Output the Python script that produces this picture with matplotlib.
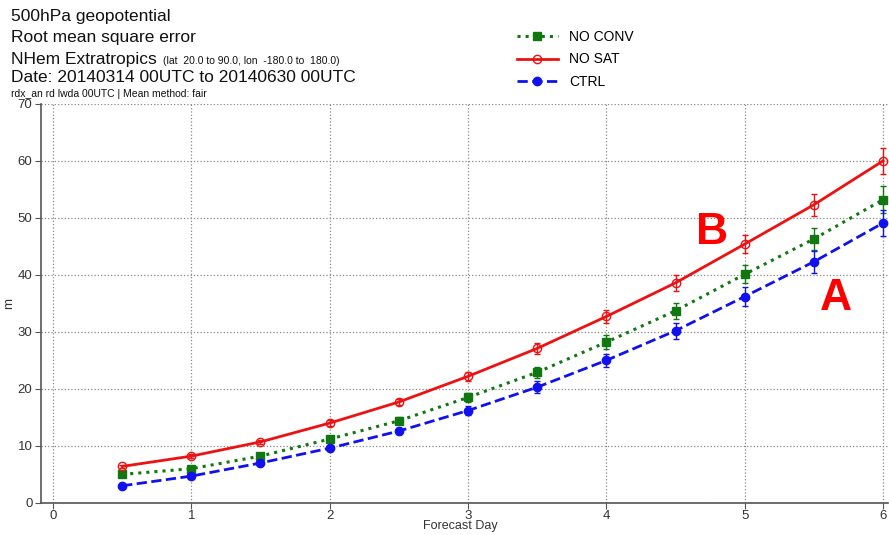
import matplotlib
matplotlib.use('Agg')
import matplotlib.pyplot as plt
from matplotlib.lines import Line2D

plt.rcParams['font.family'] = ['Liberation Sans', 'DejaVu Sans']

days = [0.5, 1, 1.5, 2, 2.5, 3, 3.5, 4, 4.5, 5, 5.5, 6]
no_sat = [6.4, 8.2, 10.7, 14.0, 17.7, 22.2, 27.1, 32.7, 38.6, 45.4, 52.3, 60.0]
no_conv = [5.0, 6.0, 8.2, 11.2, 14.4, 18.5, 22.9, 28.2, 33.7, 40.1, 46.3, 53.2]
ctrl = [3.0, 4.7, 7.0, 9.6, 12.6, 16.2, 20.3, 25.0, 30.2, 36.2, 42.3, 49.1]
err = [0.3, 0.3, 0.4, 0.5, 0.6, 0.8, 1.0, 1.2, 1.4, 1.6, 1.9, 2.3]

fig = plt.figure(figsize=(8.89, 5.35), dpi=100)
ax = fig.add_axes([0.046, 0.060, 0.953, 0.746])

styles = [
    ('NO CONV', no_conv, dict(color='#117711', ls=':', lw=2.2, marker='s', ms=6)),
    ('NO SAT', no_sat, dict(color='#ee1111', ls='-', lw=2, marker='o', ms=6,
                            mfc='none', mew=1)),
    ('CTRL', ctrl, dict(color='#1111ee', ls='--', lw=2, marker='o', ms=6)),
]
handles = []
for name, vals, st in styles:
    ax.errorbar(days, vals, yerr=err, capsize=2.5, elinewidth=1, **st)
    handles.append(Line2D([], [], label=name, **st))

ax.set_xlim(-0.087, 6.036)
ax.set_ylim(0, 70)
ax.set_xticks(range(0, 7))
ax.set_yticks(range(0, 71, 10))
ax.grid(True, ls=':', color='#888888', lw=0.9)
for s in ['top', 'right']:
    ax.spines[s].set_visible(False)
for s in ['left', 'bottom']:
    ax.spines[s].set_color('#555555')
    ax.spines[s].set_linewidth(1.2)
ax.tick_params(colors='#555555', labelcolor='#333333', labelsize=9.5, length=4, pad=2)
ax.tick_params(axis='x', pad=1)

ax.set_xlabel('Forecast Day', fontsize=9, color='#333333')
ax.xaxis.set_label_coords(0.495, -0.0435)
ax.set_ylabel('m', fontsize=9.5, color='#333333')
ax.yaxis.set_label_coords(-0.030, 0.5)

ax.text(4.765, 47.4, 'B', color='red', fontsize=32, fontweight='bold', ha='center', va='center')
ax.text(5.66, 35.8, 'A', color='red', fontsize=32, fontweight='bold', ha='center', va='center')

fig.text(0.012, 0.970, '500hPa geopotential', fontsize=12.5, va='center', color='#111111')
fig.text(0.012, 0.929, 'Root mean square error', fontsize=12.5, va='center', color='#111111')
fig.text(0.012, 0.888, 'NHem Extratropics', fontsize=12.5, va='center', color='#111111')
fig.text(0.183, 0.886, '(lat  20.0 to 90.0, lon  -180.0 to  180.0)', fontsize=7.5,
         va='center', color='#111111')
fig.text(0.012, 0.856, 'Date: 20140314 00UTC to 20140630 00UTC', fontsize=12.5,
         va='center', color='#111111')
fig.text(0.012, 0.825, 'rdx_an rd lwda 00UTC | Mean method: fair', fontsize=7.5,
         va='center', color='#111111')

fig.legend(handles=handles, loc='upper left', bbox_to_anchor=(0.567, 0.967),
           frameon=False, fontsize=10, handlelength=3, handletextpad=0.8,
           labelspacing=0.6)

fig.savefig('out.png', dpi=100)
